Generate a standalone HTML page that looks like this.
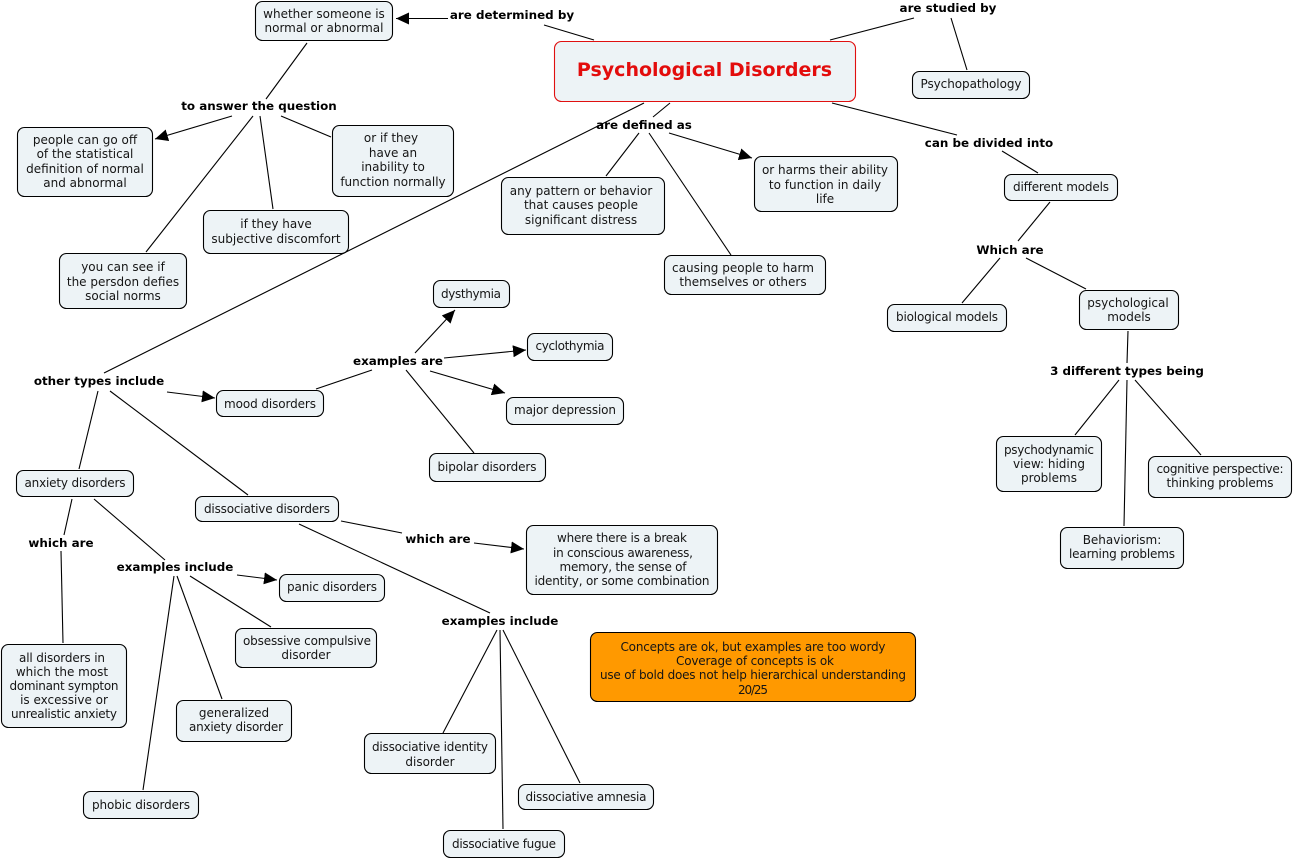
<!DOCTYPE html>
<html><head><meta charset="utf-8"><style>
html,body{margin:0;padding:0;background:#fff;width:1293px;height:860px;overflow:hidden}
svg{display:block}
text{font-family:"DejaVu Sans","Liberation Sans",sans-serif;font-size:12px;fill:#151515;text-anchor:middle}
.b{font-weight:bold;fill:#000;font-size:11.9px}
.t{font-weight:bold;font-size:19px;fill:#e30c0c}
rect{fill:#edf3f6;stroke:#000;stroke-width:1.1}
line{stroke:#000;stroke-width:1.1}
.a{fill:#000;stroke:none}
</style></head><body>
<svg width="1293" height="860" viewBox="0 0 1293 860" xmlns="http://www.w3.org/2000/svg">
<defs><marker id="m" markerUnits="userSpaceOnUse" markerWidth="14" markerHeight="12" refX="13" refY="6" orient="auto"><path class="a" d="M0 0L13 6L0 12z"/></marker></defs>

<g>
<line x1="448" y1="18.500" x2="396" y2="18.500" marker-end="url(#m)"/>
<line x1="544" y1="25" x2="594" y2="40"/>
<line x1="914" y1="18" x2="830" y2="40"/>
<line x1="951" y1="18" x2="967" y2="70"/>
<line x1="670" y1="103" x2="653" y2="117"/>
<line x1="644" y1="103" x2="104" y2="373"/>
<line x1="832" y1="103" x2="957" y2="135"/>
<line x1="1002" y1="151" x2="1038" y2="173"/>
<line x1="639" y1="133" x2="606" y2="176"/>
<line x1="649" y1="133" x2="731" y2="255"/>
<line x1="669" y1="133" x2="752" y2="158" marker-end="url(#m)"/>
<line x1="307" y1="43" x2="266" y2="99"/>
<line x1="232" y1="116" x2="155" y2="139" marker-end="url(#m)"/>
<line x1="253" y1="116" x2="146" y2="252"/>
<line x1="260" y1="116" x2="273" y2="209"/>
<line x1="281" y1="116" x2="331" y2="137"/>
<line x1="1050" y1="202" x2="1018" y2="241"/>
<line x1="1000" y1="258" x2="962" y2="303"/>
<line x1="1026" y1="258" x2="1086" y2="289"/>
<line x1="1128" y1="331" x2="1127" y2="363"/>
<line x1="1119" y1="380" x2="1075" y2="435"/>
<line x1="1127" y1="380" x2="1124" y2="526"/>
<line x1="1135" y1="380" x2="1201" y2="455"/>
<line x1="98" y1="391" x2="79" y2="469"/>
<line x1="110" y1="391" x2="248" y2="495"/>
<line x1="167" y1="392" x2="215" y2="398" marker-end="url(#m)"/>
<line x1="316" y1="389" x2="372" y2="370"/>
<line x1="415" y1="353" x2="455" y2="310" marker-end="url(#m)"/>
<line x1="444" y1="358" x2="526" y2="350" marker-end="url(#m)"/>
<line x1="430" y1="371" x2="505" y2="393" marker-end="url(#m)"/>
<line x1="406" y1="370" x2="474" y2="453"/>
<line x1="72" y1="499" x2="64" y2="535"/>
<line x1="61" y1="551" x2="63" y2="643"/>
<line x1="94" y1="499" x2="165" y2="560"/>
<line x1="237" y1="575" x2="277" y2="580" marker-end="url(#m)"/>
<line x1="190" y1="576" x2="271" y2="627"/>
<line x1="177" y1="576" x2="222" y2="699"/>
<line x1="174" y1="576" x2="143" y2="790"/>
<line x1="341" y1="521" x2="402" y2="533"/>
<line x1="474" y1="543" x2="524" y2="549" marker-end="url(#m)"/>
<line x1="299" y1="524" x2="490" y2="613"/>
<line x1="497" y1="630" x2="443" y2="733"/>
<line x1="500" y1="630" x2="503" y2="829"/>
<line x1="503" y1="630" x2="580" y2="783"/>
</g>

<g>
<rect x="255.500" y="1.500" width="137" height="39" rx="7"/>
<rect x="554.500" y="41.500" width="301" height="60" rx="7" style="stroke:#e01010"/>
<rect x="912.500" y="71.500" width="117" height="27" rx="7"/>
<rect x="17.500" y="127.500" width="135" height="69" rx="7"/>
<rect x="332.500" y="125.500" width="121" height="71" rx="7"/>
<rect x="203.500" y="210.500" width="145" height="43" rx="7"/>
<rect x="59.500" y="253.500" width="127" height="55" rx="7"/>
<rect x="501.500" y="177.500" width="163" height="57" rx="7"/>
<rect x="754.500" y="156.500" width="143" height="55" rx="7"/>
<rect x="664.500" y="255.500" width="161" height="39" rx="7"/>
<rect x="1004.500" y="174.500" width="113" height="26" rx="7"/>
<rect x="887.500" y="304.500" width="119" height="27" rx="7"/>
<rect x="1079.500" y="290.500" width="99" height="39" rx="7"/>
<rect x="433.500" y="280.500" width="76" height="27" rx="7"/>
<rect x="527.500" y="333.500" width="85" height="27" rx="7"/>
<rect x="506.500" y="397.500" width="117" height="27" rx="7"/>
<rect x="429.500" y="453.500" width="116" height="28" rx="7"/>
<rect x="216.500" y="390.500" width="107" height="26" rx="7"/>
<rect x="16.500" y="470.500" width="117" height="26" rx="7"/>
<rect x="195.500" y="496.500" width="143" height="25" rx="7"/>
<rect x="526.500" y="525.500" width="191" height="69" rx="7"/>
<rect x="279.500" y="574.500" width="105" height="27" rx="7"/>
<rect x="235.500" y="628.500" width="141" height="39" rx="7"/>
<rect x="176.500" y="700.500" width="115" height="41" rx="7"/>
<rect x="1.500" y="644.500" width="125" height="83" rx="7"/>
<rect x="83.500" y="791.500" width="115" height="27" rx="7"/>
<rect x="364.500" y="733.500" width="131" height="40" rx="7"/>
<rect x="518.500" y="784.500" width="135" height="25" rx="7"/>
<rect x="443.500" y="830.500" width="121" height="27" rx="7"/>
<rect x="590.500" y="632.500" width="325" height="69" rx="7" style="fill:#ff9900"/>
<rect x="996.500" y="436.500" width="105" height="55" rx="7"/>
<rect x="1148.500" y="456.500" width="143" height="41" rx="7"/>
<rect x="1060.500" y="527.500" width="123" height="41" rx="7"/>
</g>

<g>
<text class="t" x="704.500" y="76">Psychological Disorders</text>
<text x="324" y="18">whether someone is</text><text x="324" y="32">normal or abnormal</text>
<text x="971" y="88" textLength="101">Psychopathology</text>
<text x="85" y="144">people can go off</text><text x="85" y="158">of the statistical</text><text x="85" y="173">definition of normal</text><text x="85" y="187">and abnormal</text>
<text x="391" y="142">or if they</text><text x="393" y="157">have an</text><text x="393" y="171">inability to</text><text x="393" y="186">function normally</text>
<text x="276" y="228">if they have</text><text x="276" y="243">subjective discomfort</text>
<text x="123" y="271">you can see if</text><text x="123" y="286">the persdon defies</text><text x="123" y="300">social norms</text>
<text x="581" y="195">any pattern or behavior</text><text x="581" y="209">that causes people</text><text x="581" y="224">significant distress</text>
<text x="825" y="174">or harms their ability</text><text x="825" y="189">to function in daily</text><text x="825" y="203">life</text>
<text x="743" y="272">causing people to harm</text><text x="743" y="286">themselves or others</text>
<text x="1061" y="191" textLength="96">different models</text>
<text x="947" y="321" textLength="102">biological models</text>
<text x="1128" y="307">psychological</text><text x="1129" y="321">models</text>
<text x="471" y="298" textLength="60">dysthymia</text>
<text x="570" y="350" textLength="69">cyclothymia</text>
<text x="565" y="414" textLength="102">major depression</text>
<text x="487" y="471" textLength="99">bipolar disorders</text>
<text x="270" y="408" textLength="92">mood disorders</text>
<text x="75" y="487" textLength="101">anxiety disorders</text>
<text x="267" y="513" textLength="126">dissociative disorders</text>
<text x="622" y="542" textLength="130">where there is a break</text><text x="623" y="557" textLength="140">in conscious awareness,</text><text x="623" y="571" textLength="127">memory, the sense of</text><text x="622" y="585" textLength="175">identity, or some combination</text>
<text x="332" y="591" textLength="90">panic disorders</text>
<text x="307" y="645" textLength="128">obsessive compulsive</text><text x="306" y="659">disorder</text>
<text x="234" y="717">generalized</text><text x="236" y="731" textLength="94">anxiety disorder</text>
<text x="62" y="662" textLength="86">all disorders in</text><text x="62" y="676">which the most</text><text x="64" y="690" textLength="109">dominant sympton</text><text x="64" y="704">is excessive or</text><text x="64" y="718" textLength="106">unrealistic anxiety</text>
<text x="141" y="809" textLength="98">phobic disorders</text>
<text x="430" y="751" textLength="116">dissociative identity</text><text x="430" y="766">disorder</text>
<text x="586" y="801" textLength="121">dissociative amnesia</text>
<text x="504" y="848" textLength="104">dissociative fugue</text>
<text x="753" y="651" textLength="265">Concepts are ok, but examples are too wordy</text><text x="755" y="665" textLength="158">Coverage of concepts is ok</text><text x="753" y="679" textLength="306">use of bold does not help hierarchical understanding</text><text x="753" y="694" textLength="30">20/25</text>
<text x="1049" y="454" textLength="90">psychodynamic</text><text x="1049" y="468">view: hiding</text><text x="1049" y="482">problems</text>
<text x="1220" y="473" textLength="127">cognitive perspective:</text><text x="1220" y="487" textLength="107">thinking problems</text>
<text x="1122" y="544">Behaviorism:</text><text x="1122" y="558" textLength="106">learning problems</text>

<text class="b" x="512" y="19">are determined by</text>
<text class="b" x="948" y="12">are studied by</text>
<text class="b" x="644" y="129">are defined as</text>
<text class="b" x="989" y="147">can be divided into</text>
<text class="b" x="259" y="110">to answer the question</text>
<text class="b" x="1010" y="254">Which are</text>
<text class="b" x="1127" y="375">3 different types being</text>
<text class="b" x="99" y="385">other types include</text>
<text class="b" x="398" y="365">examples are</text>
<text class="b" x="61" y="547">which are</text>
<text class="b" x="175" y="571">examples include</text>
<text class="b" x="438" y="543">which are</text>
<text class="b" x="500" y="625">examples include</text>
</g>
</svg>
</body></html>
